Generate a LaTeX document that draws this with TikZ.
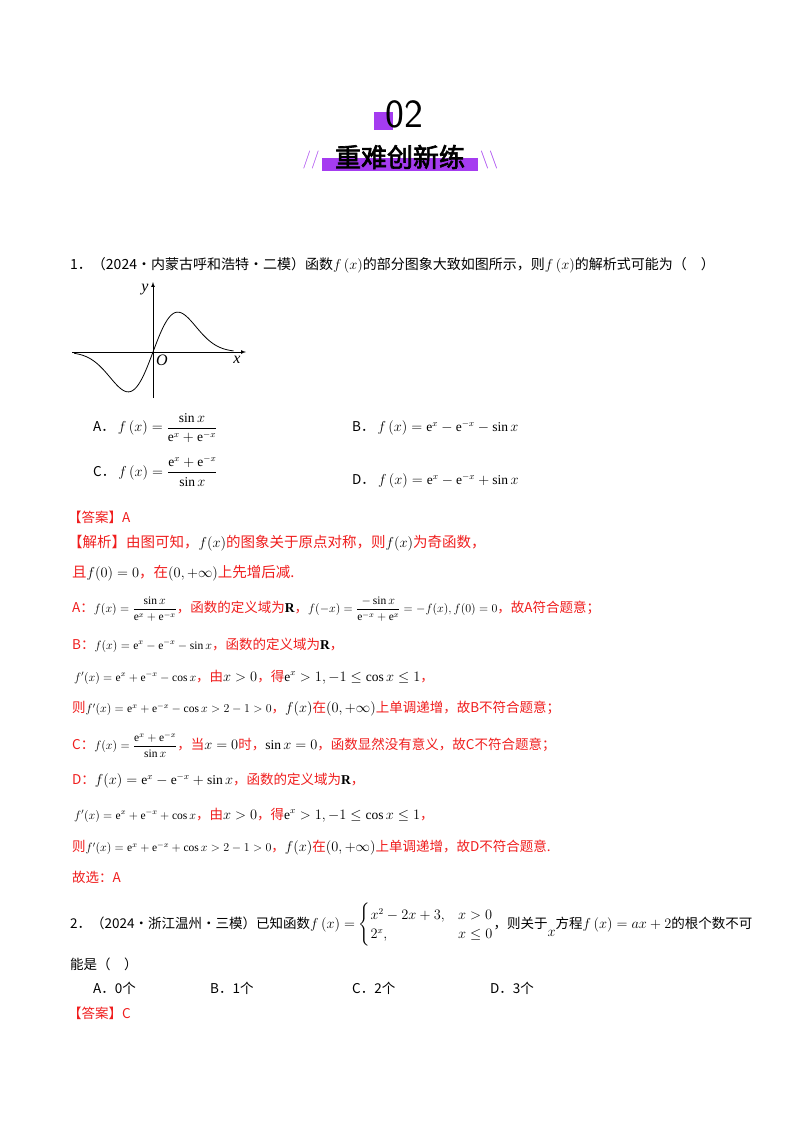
\documentclass[tikz,border=0pt]{standalone}
\usepackage{amsmath}
\usepackage{fontspec}
\setmainfont{Liberation Serif}
\newfontfamily\cjk{Noto Sans CJK SC}
\newfontfamily\cjkb{Noto Sans CJK SC}[FakeBold=2.5]
\definecolor{ansred}{RGB}{240,30,30}
\definecolor{hdpurple}{RGB}{165,60,240}
\newcommand{\mm}[1]{{\color{black}$#1$}}
\newcommand{\sm}[1]{{\color{black}\fontsize{11.5}{13}\selectfont$#1$}}
\begin{document}
\begin{tikzpicture}[x=1pt,y=-1pt,
  txt/.style={anchor=west,inner sep=0pt,font=\cjk\fontsize{13.5}{16}\selectfont},
  red/.style={txt,text=ansred},
  axl/.style={inner sep=0pt,font=\rmfamily\itshape\fontsize{16}{16}\selectfont}]
\useasboundingbox (0,0) rectangle (800,1132);
\fill[white] (0,0) rectangle (800,1132);
% header
\fill[hdpurple] (374,112) rectangle (393,130);
\node[inner sep=0pt,font=\fontsize{40}{40}\selectfont\sffamily] (num) at (404,114) {02};
\fill[hdpurple] (322,158) rectangle (478,171);
\node[inner sep=0pt,font=\cjkb\fontsize{26}{26}\selectfont] (ttl) at (400,157) {重难创新练};
\node[inner sep=0pt,text=hdpurple,font=\sffamily\fontsize{18}{18}\selectfont] (sl) at (311,160) {//};
\node[inner sep=0pt,text=hdpurple,font=\sffamily\fontsize{18}{18}\selectfont] (sr) at (489,160) {\textbackslash\textbackslash};
% question 1
\node[txt,font=\cjk\fontsize{14}{16}\selectfont] (q1) at (70,265) {1．（2024·内蒙古呼和浩特·二模）函数$f\left(x\right)$的部分图象大致如图所示，则$f\left(x\right)$的解析式可能为（\quad ）};
% graph
\coordinate (O) at (153,352);
\draw[-latex,line width=0.7pt] (72,352) -- (246,352);
\draw[-latex,line width=0.7pt] (153,398) -- (153,282);
\node[axl] (ly) at (145,290) {y};
\node[axl] (lx) at (237,360) {x};
\node[axl] (lo) at (162,360) {O};
\draw[line width=0.8pt,smooth,domain=-2.25:2.3,samples=80] plot ({153+35*\x},{352-93*\x*exp(-\x*\x)});
% options
\node[txt] (oa) at (93,428) {A．\ $f\left(x\right)=\dfrac{\sin x}{\mathrm{e}^{x}+\mathrm{e}^{-x}}$};
\node[txt] (ob) at (352,428) {B．\ $f\left(x\right)=\mathrm{e}^{x}-\mathrm{e}^{-x}-\sin x$};
\node[txt] (oc) at (93,471) {C．\ $f\left(x\right)=\dfrac{\mathrm{e}^{x}+\mathrm{e}^{-x}}{\sin x}$};
\node[txt] (od) at (352,481) {D．\ $f\left(x\right)=\mathrm{e}^{x}-\mathrm{e}^{-x}+\sin x$};
% answer
\node[red] (ans) at (68,517) {【答案】A};
\node[red,font=\cjk\fontsize{14.5}{16}\selectfont] (s1) at (68,543) {【解析】由图可知，\mm{f(x)}的图象关于原点对称，则\mm{f(x)}为奇函数，};
\node[red,font=\cjk\fontsize{14.5}{16}\selectfont] (s2) at (72,573) {且\mm{f(0)=0}，在\mm{(0,+\infty)}上先增后减.};
\node[red] (s3) at (72,609) {A：\sm{f(x)=\dfrac{\sin x}{\mathrm{e}^{x}+\mathrm{e}^{-x}}}，函数的定义域为\mm{\mathbf{R}}，\sm{f(-x)=\dfrac{-\sin x}{\mathrm{e}^{-x}+\mathrm{e}^{x}}=-f(x),f(0)=0}，故A符合题意；};
\node[red] (s4) at (72,645) {B：\sm{f(x)=\mathrm{e}^{x}-\mathrm{e}^{-x}-\sin x}，函数的定义域为\mm{\mathbf{R}}，};
\node[red] (s5) at (74,677) {\sm{f'(x)=\mathrm{e}^{x}+\mathrm{e}^{-x}-\cos x}，由\mm{x>0}，得\mm{\mathrm{e}^{x}>1,-1\le\cos x\le1}，};
\node[red] (s6) at (72,709) {则\sm{f'(x)=\mathrm{e}^{x}+\mathrm{e}^{-x}-\cos x>2-1>0}，\mm{f(x)}在\mm{(0,+\infty)}上单调递增，故B不符合题意；};
\node[red] (s7) at (72,745) {C：\sm{f(x)=\dfrac{\mathrm{e}^{x}+\mathrm{e}^{-x}}{\sin x}}，当\mm{x=0}时，\mm{\sin x=0}，函数显然没有意义，故C不符合题意；};
\node[red] (s8) at (72,781) {D：\mm{f(x)=\mathrm{e}^{x}-\mathrm{e}^{-x}+\sin x}，函数的定义域为\mm{\mathbf{R}}，};
\node[red] (s9) at (74,815) {\sm{f'(x)=\mathrm{e}^{x}+\mathrm{e}^{-x}+\cos x}，由\mm{x>0}，得\mm{\mathrm{e}^{x}>1,-1\le\cos x\le1}，};
\node[red] (s10) at (72,848) {则\sm{f'(x)=\mathrm{e}^{x}+\mathrm{e}^{-x}+\cos x>2-1>0}，\mm{f(x)}在\mm{(0,+\infty)}上单调递增，故D不符合题意.};
\node[red] (s11) at (72,877) {故选：A};
% question 2
\node[txt] (q2) at (70,925) {2．（2024·浙江温州·三模）已知函数$f\left(x\right)=\begin{cases}x^2-2x+3, & x>0\\ 2^x, & x\le0\end{cases}$，则关于\raisebox{-8pt}{$x$}方程$f\left(x\right)=ax+2$的根个数不可};
\node[txt] (q2b) at (70,964) {能是（\quad ）};
\node[txt] (p1) at (93,988) {A．0个};
\node[txt] (p2) at (210,988) {B．1个};
\node[txt] (p3) at (352,988) {C．2个};
\node[txt] (p4) at (490,988) {D．3个};
\node[red] (ans2) at (68,1013) {【答案】C};
\end{tikzpicture}
\end{document}
